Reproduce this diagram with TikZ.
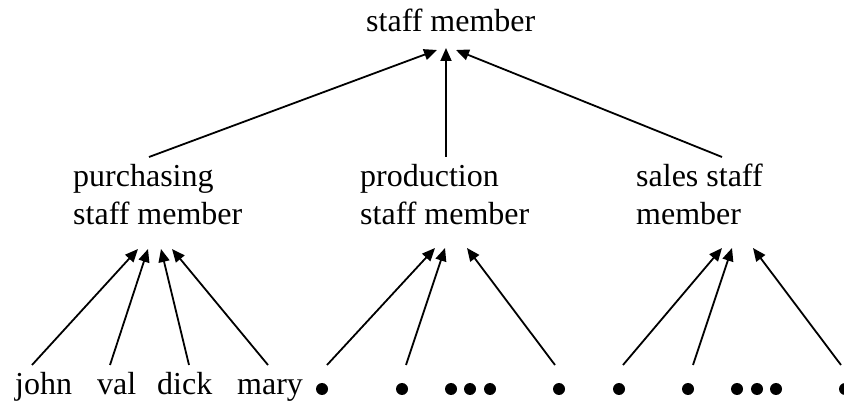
\documentclass[tikz,border=0pt]{standalone}
\usepackage{fontspec}
\setmainfont{Liberation Serif}
\usetikzlibrary{arrows.meta}
\begin{document}
\begin{tikzpicture}[x=1pt,y=-1pt,
  lbl/.style={anchor=base west,inner sep=0pt,align=left,
              font=\fontsize{32}{38}\selectfont},
  dot/.style={circle,fill=black,inner sep=0pt,minimum size=12pt},
  arr/.style={line width=1.8pt,-{Triangle[length=13pt,width=11pt]}}]
\useasboundingbox (0,0) rectangle (844,403);

% category labels (base anchor sits on the last line)
\node[lbl] (top)   at (366,32)  {staff member};
\node[lbl] (pur)   at (73,225)  {purchasing\\staff member};
\node[lbl] (prod)  at (360,225) {production\\staff member};
\node[lbl] (sales) at (636,225) {sales staff\\member};

% instances
\node[lbl] (john) at (15,395)  {john};
\node[lbl] (val)  at (97,395)  {val};
\node[lbl] (dick) at (157,395) {dick};
\node[lbl] (mary) at (237,395) {mary};
\node[dot] (p1) at (322,389) {};
\node[dot] (p2) at (402,389) {};
\node[dot] (p3) at (451,389) {};
\node[dot] (p4) at (470,389) {};
\node[dot] (p5) at (490,389) {};
\node[dot] (p6) at (559,389) {};
\node[dot] (s1) at (619,389) {};
\node[dot] (s2) at (688,389) {};
\node[dot] (s3) at (737,389) {};
\node[dot] (s4) at (757,389) {};
\node[dot] (s5) at (776,389) {};
\node[dot] (s6) at (845,389) {};

% arrow ports
\coordinate (top-i1) at (437,50);
\coordinate (top-i2) at (446,48);
\coordinate (top-i3) at (456,50);
\coordinate (pur-o)   at (149,157);
\coordinate (prod-o)  at (446,157);
\coordinate (sales-o) at (722,157);

\coordinate (pur-i1) at (138,249);
\coordinate (pur-i2) at (148,249);
\coordinate (pur-i3) at (161,249);
\coordinate (pur-i4) at (172,249);
\coordinate (prod-i1) at (435,248);
\coordinate (prod-i2) at (445,248);
\coordinate (prod-i3) at (467,248);
\coordinate (sales-i1) at (722,248);
\coordinate (sales-i2) at (732,248);
\coordinate (sales-i3) at (753,248);

\coordinate (john-o) at (32,365);
\coordinate (val-o)  at (110,365);
\coordinate (dick-o) at (189,365);
\coordinate (mary-o) at (268,365);
\coordinate (p1-o) at (327,365);
\coordinate (p2-o) at (406,365);
\coordinate (p6-o) at (555,365);
\coordinate (s1-o) at (623,365);
\coordinate (s2-o) at (693,365);
\coordinate (s6-o) at (841,365);

% specialisation arrows
\draw[arr] (pur-o)   -- (top-i1);
\draw[arr] (prod-o)  -- (top-i2);
\draw[arr] (sales-o) -- (top-i3);

% instance arrows
\draw[arr] (john-o) -- (pur-i1);
\draw[arr] (val-o)  -- (pur-i2);
\draw[arr] (dick-o) -- (pur-i3);
\draw[arr] (mary-o) -- (pur-i4);
\draw[arr] (p1-o) -- (prod-i1);
\draw[arr] (p2-o) -- (prod-i2);
\draw[arr] (p6-o) -- (prod-i3);
\draw[arr] (s1-o) -- (sales-i1);
\draw[arr] (s2-o) -- (sales-i2);
\draw[arr] (s6-o) -- (sales-i3);
\end{tikzpicture}
\end{document}
